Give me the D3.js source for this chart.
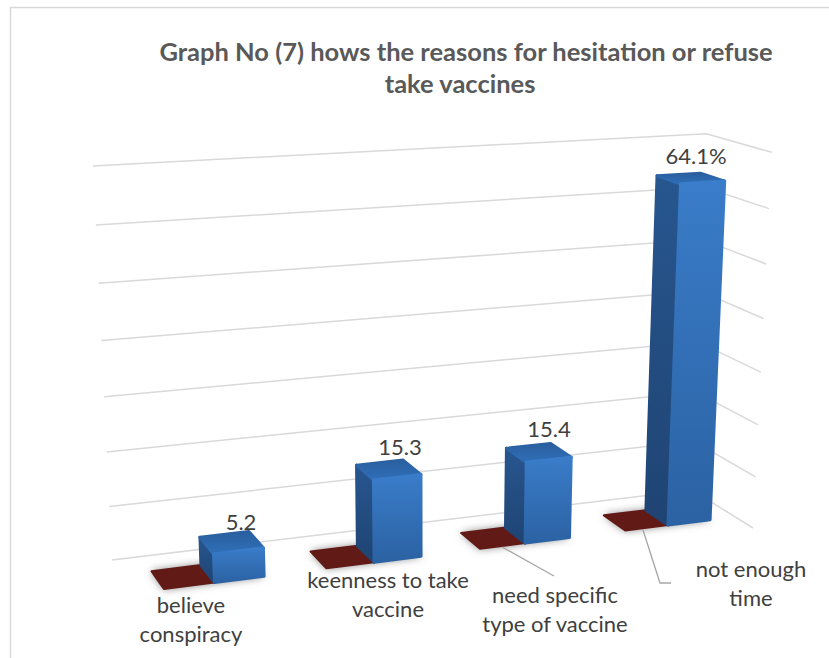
<!DOCTYPE html>
<html><head><meta charset="utf-8">
<script src="https://cdn.jsdelivr.net/npm/d3@7"></script>
<style>html,body{margin:0;padding:0;background:#fff}svg{display:block}text{font-family:Lato,"Open Sans",sans-serif}</style>
</head><body><svg id="c" width="829" height="658"></svg>
<script>
const categories = ["believe conspiracy","keenness to take vaccine","need specific type of vaccine","not enough time"];
const seriesA = [0,0,0,0];
const seriesB = [5.2,15.3,15.4,64.1];
const valueLabels = ["5.2","15.3","15.4","64.1%"];
const gridTicks = [0,10,20,30,40,50,60,70];
const titleLines = ["Graph No (7) hows the reasons for hesitation or refuse","take vaccines"];
const categoryLines = [["believe","conspiracy"],["keenness to take","vaccine"],["need specific","type of vaccine"],["not enough","time"]];

// --- camera calibration for the 3-D look ---
function solve(A,b){const n=b.length,M=A.map((r,i)=>[...r,b[i]]);
  for(let i=0;i<n;i++){let p=i;for(let k=i+1;k<n;k++)if(Math.abs(M[k][i])>Math.abs(M[p][i]))p=k;
    [M[i],M[p]]=[M[p],M[i]];
    for(let k=0;k<n;k++)if(k!==i){const f=M[k][i]/M[i][i];for(let j=i;j<=n;j++)M[k][j]-=f*M[i][j];}}
  return M.map((r,i)=>r[n]/r[i]);}
const floorCal=[[0,0,112,560],[1,0,692,490],[1,1,753,528],[0,1,143,607]];
const A8=[],b8=[];
floorCal.forEach(([u,v,x,y])=>{A8.push([u,v,1,0,0,0,-u*x,-v*x]);b8.push(x);A8.push([0,0,0,u,v,1,-u*y,-v*y]);b8.push(y);});
const H=solve(A8,b8);
const hom=(u,v)=>[H[0]*u+H[1]*v+H[2],H[3]*u+H[4]*v+H[5],H[6]*u+H[7]*v+1];
const topCal=[[0,0,93,166],[1,0,706,134],[1,1,772,152]];
const rows=[],rhs=[];
topCal.forEach(([u,v,sx,sy])=>{const [X,Y,W]=hom(u,v);
  rows.push([1,0,-sx]);rhs.push((sx*W-X)/70);rows.push([0,1,-sy]);rhs.push((sy*W-Y)/70);});
const AtA=[0,1,2].map(i=>[0,1,2].map(j=>d3.sum(rows,r=>r[i]*r[j])));
const Atb=[0,1,2].map(i=>d3.sum(rows,(r,k)=>r[i]*rhs[k]));
const [hx,hy,hw]=solve(AtA,Atb);
const project=(u,v,h)=>{const [X,Y,W]=hom(u,v);const w=W+h*hw;return [(X+h*hx)/w,(Y+h*hy)/w];};

// --- scales ---
const uBand=d3.scaleBand().domain(categories).range([0,1]).paddingInner(0.39).paddingOuter(0.18);
const uSeries=d3.scaleBand().domain(["A","B"]).range([0,uBand.bandwidth()]);
const vDepth=d3.scaleLinear().domain([0,1]).range([0.33,0.71]);
const value=d3.scaleLinear().domain([0,70]).range([0,70]);

const svg=d3.select("#c");
const defs=svg.append("defs");
const blur=defs.append("filter").attr("id","blur").attr("x","-30%").attr("y","-60%").attr("width","160%").attr("height","220%");
blur.append("feGaussianBlur").attr("stdDeviation",4);
function grad(id,stops){const g=defs.append("linearGradient").attr("id",id).attr("x1",0).attr("y1",0).attr("x2",0).attr("y2",1);
  stops.forEach(([o,c])=>g.append("stop").attr("offset",o).attr("stop-color",c));}
grad("front",[[0,"#3a7dcb"],[0.12,"#3879c4"],[1,"#2b62a3"]]);
grad("side",[[0,"#27568f"],[1,"#1f4473"]]);
grad("top",[[0,"#2a5f9f"],[1,"#2f6fb8"]]);

svg.append("rect").attr("x",10.5).attr("y",7.5).attr("width",860).attr("height",700).attr("fill","#fff").attr("stroke","#d9d9d9").attr("stroke-width",1.5);

const line=d3.line();
const grid=svg.append("g").attr("fill","none").attr("stroke","#d9d9d9").attr("stroke-width",1.5);
gridTicks.forEach(t=>{
  grid.append("path").attr("d",line([project(0,0,value(t)),project(1,0,value(t)),project(1,1,value(t))]));
});

// bars
const poly=pts=>line(pts)+"Z";
function box(u0,u1,v0,v1,h){return {
  floor:[project(u0,v0,0),project(u1,v0,0),project(u1,v1,0),project(u0,v1,0)],
  side:[project(u0,v0,0),project(u0,v1,0),project(u0,v1,h),project(u0,v0,h)],
  front:[project(u0,v1,0),project(u1,v1,0),project(u1,v1,h),project(u0,v1,h)],
  top:[project(u0,v0,h),project(u1,v0,h),project(u1,v1,h),project(u0,v1,h)]};}
const shadows=svg.append("g").attr("filter","url(#blur)").attr("fill","#777");
const bars=svg.append("g");
categories.forEach((c,i)=>{
  const base=uBand(c);
  const a=box(base+uSeries("A"),base+uSeries("A")+uSeries.bandwidth(),vDepth(0),vDepth(1),seriesA[i]);
  const b=box(base+uSeries("B"),base+uSeries("B")+uSeries.bandwidth(),vDepth(0),vDepth(1),value(seriesB[i]));
  shadows.append("path").attr("d",poly(a.floor));
  shadows.append("path").attr("d",poly(b.floor));
  bars.append("path").attr("d",poly(a.floor)).attr("fill","#611a15").attr("stroke","#611a15").attr("stroke-width",2).attr("stroke-linejoin","round");
  [["side",b.side],["top",b.top],["front",b.front]].forEach(([k,p])=>{
    bars.append("path").attr("d",poly(p)).attr("fill",`url(#${k})`).attr("stroke",`url(#${k})`).attr("stroke-width",3).attr("stroke-linejoin","round");
  });
});

// leader lines (category labels moved by hand in the original)
const leaders=[[[502,547],[554,576]],[[643,530],[660,583],[671,583]]];
svg.append("g").attr("fill","none").attr("stroke","#a6a6a6").attr("stroke-width",1.3)
  .selectAll("path").data(leaders).join("path").attr("d",d=>line(d));

// text
const title=svg.append("g").attr("fill","#595959").attr("font-size",25.5).attr("font-weight",700).attr("text-anchor","middle");
const titlePos=[[466,61],[460,93]];
titleLines.forEach((t,i)=>title.append("text").attr("x",titlePos[i][0]).attr("y",titlePos[i][1]).text(t));

const valPos=[[241,530],[400,455],[549,437],[696,164]];
svg.append("g").attr("fill","#404040").attr("font-size",22).attr("text-anchor","middle")
  .selectAll("text").data(valueLabels).join("text").attr("x",(d,i)=>valPos[i][0]).attr("y",(d,i)=>valPos[i][1]).text(d=>d);

const catPos=[[191,613],[388,588],[555,603],[751,577]];
const cat=svg.append("g").attr("fill","#404040").attr("font-size",22).attr("text-anchor","middle");
categoryLines.forEach((ls,i)=>ls.forEach((l,j)=>cat.append("text").attr("x",catPos[i][0]).attr("y",catPos[i][1]+j*28.7).text(l)));
</script></body></html>
